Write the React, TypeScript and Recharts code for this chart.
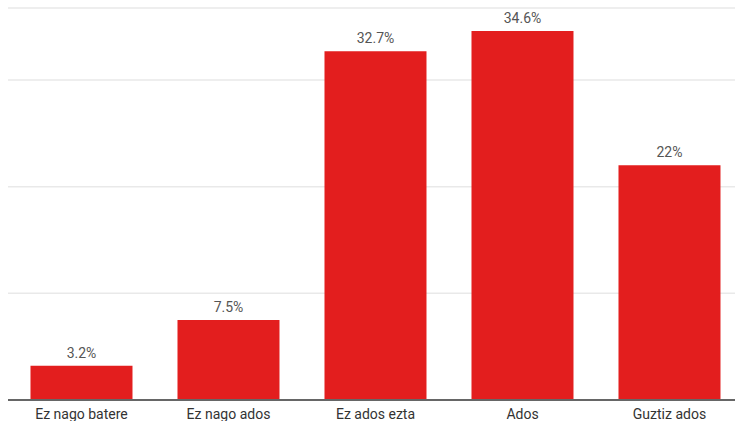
import React from "react";
import {
  BarChart,
  Bar,
  XAxis,
  YAxis,
  CartesianGrid,
  LabelList,
} from "recharts";

const categories = ["Ez nago batere", "Ez nago ados", "Ez ados ezta", "Ados", "Guztiz ados"];
const percents = [3.2, 7.5, 32.7, 34.6, 22];
const gridTicks = [0, 10, 20, 30];

const data = categories.map((name, i) => ({ name, value: percents[i] }));

const fontFamily = "Roboto, 'Liberation Sans', Arial, sans-serif";

export default function App() {
  return (
    <div
      style={{
        position: "fixed",
        top: 0,
        left: 0,
        width: 735,
        height: 421,
        overflow: "hidden",
        background: "#fff",
        fontFamily,
      }}
    >
      <BarChart
        width={743}
        height={421}
        data={data}
        margin={{ top: 8, right: 0, left: 8, bottom: 0 }}
        barCategoryGap="15.3%"
      >
        <CartesianGrid vertical={false} stroke="#e9e9e9" strokeWidth={1.5} />
        <YAxis hide domain={[0, 36.75]} ticks={gridTicks} />
        <XAxis
          dataKey="name"
          height={21}
          tickLine={false}
          axisLine={{ stroke: "#666", strokeWidth: 2 }}
          tickMargin={3}
          interval={0}
          tick={{ fill: "#333", fontSize: 14, fontFamily }}
        />
        <Bar dataKey="value" fill="#e31e1e" isAnimationActive={false}>
          <LabelList
            dataKey="value"
            position="top"
            offset={8}
            formatter={(v: any) => `${v}%`}
            style={{ fill: "#555", fontSize: 14, fontFamily }}
          />
        </Bar>
      </BarChart>
    </div>
  );
}
